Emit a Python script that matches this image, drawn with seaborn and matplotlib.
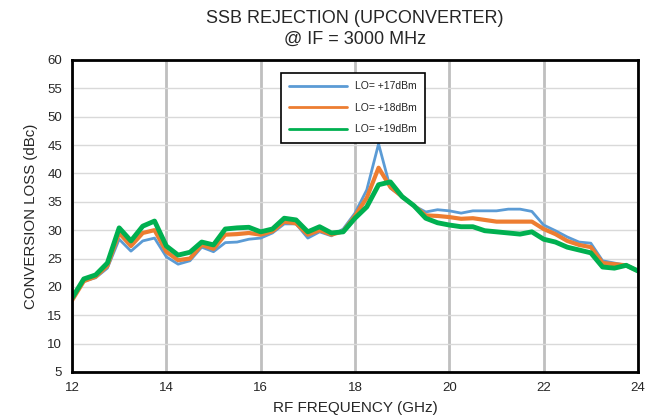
import numpy as np
import pandas as pd
import seaborn as sns
import matplotlib.pyplot as plt

"""Data read off the reference chart"""
freq = [12, 12.25, 12.5, 12.75, 13, 13.25, 13.5, 13.75, 14, 14.25, 14.5, 14.75,
        15, 15.25, 15.5, 15.75, 16, 16.25, 16.5, 16.75, 17, 17.25, 17.5, 17.75,
        18, 18.25, 18.5, 18.75, 19, 19.25, 19.5, 19.75, 20, 20.25, 20.5, 20.75,
        21, 21.25, 21.5, 21.75, 22, 22.25, 22.5, 22.75, 23, 23.25, 23.5, 23.75, 24]

lo17 = [17.6, 21.0, 21.6, 23.3, 28.4, 26.3, 28.1, 28.6, 25.3, 24.0, 24.6, 27.0,
        26.2, 27.8, 27.9, 28.4, 28.6, 29.5, 31.1, 31.1, 28.6, 29.7, 29.0, 30.2,
        33.0, 37.1, 45.2, 37.4, 35.9, 34.3, 33.2, 33.6, 33.4, 33.0, 33.4, 33.4,
        33.4, 33.7, 33.7, 33.3, 30.9, 29.9, 28.8, 27.9, 27.7, 24.6, 24.2, 23.8, 22.8]

lo18 = [17.6, 21.0, 21.8, 23.7, 29.5, 27.2, 29.5, 30.0, 26.2, 24.7, 25.0, 27.4,
        26.7, 29.2, 29.3, 29.5, 29.2, 29.8, 31.5, 31.2, 29.2, 30.0, 29.2, 29.8,
        32.5, 35.7, 41.0, 37.6, 35.9, 34.3, 32.6, 32.5, 32.3, 32.0, 32.1, 31.8,
        31.5, 31.5, 31.5, 31.5, 30.2, 29.3, 28.1, 27.4, 27.0, 24.2, 24.0, 23.8, 22.8]

lo19 = [18.0, 21.4, 22.1, 24.2, 30.4, 28.1, 30.7, 31.6, 27.2, 25.6, 26.1, 27.9,
        27.4, 30.2, 30.4, 30.5, 29.7, 30.2, 32.1, 31.8, 29.7, 30.6, 29.5, 29.7,
        32.1, 34.1, 38.0, 38.5, 35.9, 34.3, 32.1, 31.3, 30.9, 30.6, 30.6, 29.9,
        29.7, 29.5, 29.3, 29.7, 28.4, 27.9, 27.0, 26.5, 26.0, 23.5, 23.3, 23.8, 22.8]

series = [("LO= +17dBm", lo17, "#5B9BD5", 2.0),
          ("LO= +18dBm", lo18, "#ED7D31", 3.0),
          ("LO= +19dBm", lo19, "#00B050", 3.5)]

sns.set_style("white")
plt.rcParams['font.family'] = ['Liberation Sans', 'DejaVu Sans']

fig = plt.figure(figsize=(6.51, 4.19), dpi=100)
ax = fig.add_axes([0.1106, 0.1122, 0.8694, 0.7448])

for label, vals, color, lw in series:
    sns.lineplot(x=freq, y=vals, ax=ax, color=color, linewidth=lw, label=label)

ax.set_xlim(12, 24)
ax.set_ylim(5, 60)
ax.set_xticks(np.arange(12, 25, 2))
ax.set_yticks(np.arange(5, 61, 5))

"""Grid: light horizontal, heavier vertical"""
ax.yaxis.grid(True, color="#d9d9d9", linewidth=1)
ax.xaxis.grid(True, color="#bfbfbf", linewidth=2)
ax.set_axisbelow(True)

for sp in ax.spines.values():
    sp.set_visible(True)
    sp.set_color("black")
    sp.set_linewidth(2)

ax.tick_params(axis="both", direction="out", length=4, width=1.5, color="black",
               labelsize=9.5, pad=3)

ax.set_xlabel("RF FREQUENCY (GHz)", fontsize=11, labelpad=5)
ax.set_ylabel("CONVERSION LOSS (dBc)", fontsize=10.8, labelpad=7)
fig.suptitle("SSB REJECTION (UPCONVERTER)\n@ IF = 3000 MHz", fontsize=13,
             x=0.545, y=0.976, linespacing=1.3)

leg = ax.legend(loc="upper left", bbox_to_anchor=(0.36, 0.975), fontsize=7.5,
                frameon=True, fancybox=False, edgecolor="black", framealpha=1,
                handlelength=5.5, borderpad=0.8, labelspacing=1.1, handletextpad=0.8)
leg.get_frame().set_linewidth(1.2)
for h in leg.get_lines():
    h.set_linewidth(2)

plt.savefig("out.png", dpi=100)
